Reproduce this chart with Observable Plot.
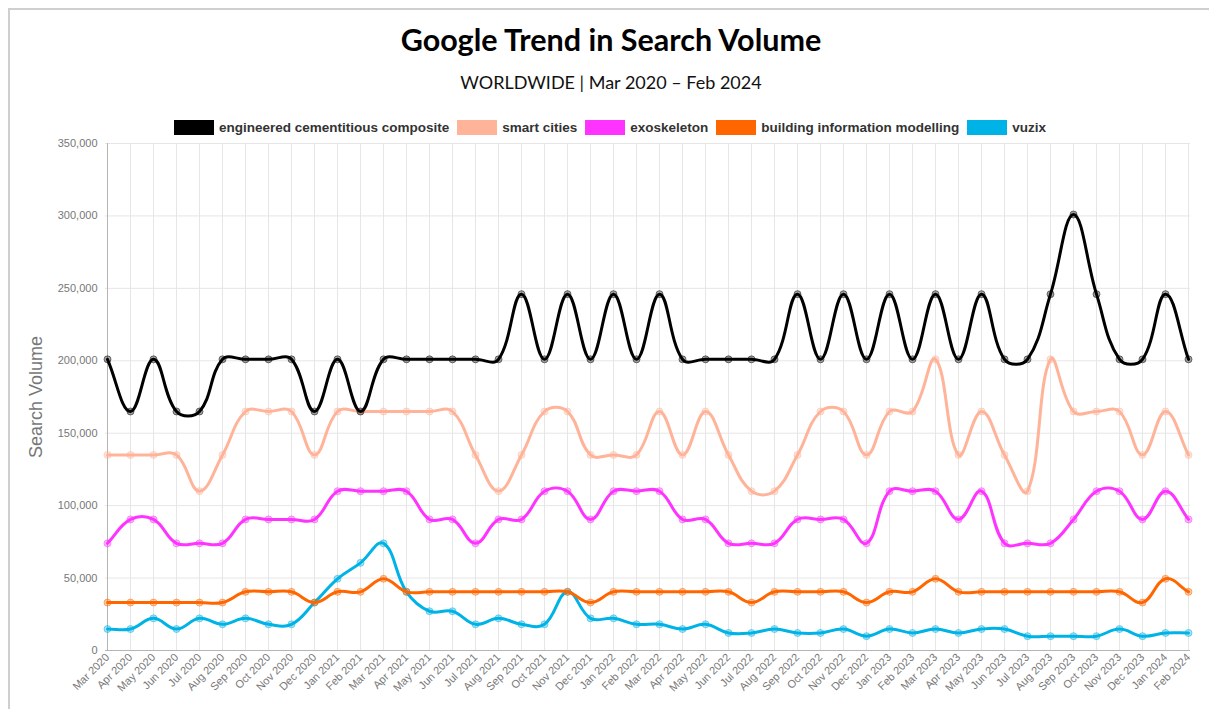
<!DOCTYPE html>
<html>
<head>
<meta charset="utf-8">
<script src="https://cdn.jsdelivr.net/npm/d3@7"></script>
<script src="https://cdn.jsdelivr.net/npm/@observablehq/plot@0.6"></script>
<style>
  html, body { margin: 0; padding: 0; overflow: hidden; background: #fff; }
  #frame { position: absolute; left: 8px; top: 8px; width: 1300px; height: 800px;
           border-left: 2px solid #cfcfcf; border-top: 2px solid #cfcfcf; pointer-events: none; z-index: 5; }
  #title { position: absolute; left: 0; width: 1222px; top: 21px; text-align: center;
           font: bold 30.5px Lato, "Open Sans", sans-serif; color: #000; }
  #subtitle { position: absolute; left: 0; width: 1222px; top: 71px; text-align: center;
           font: 18px Lato, "Open Sans", sans-serif; color: #111; }
  #legend { position: absolute; left: 0; width: 1220px; top: 120px; display: flex; justify-content: center;
            font: bold 13.5px "Liberation Sans", Arial, sans-serif; color: #333; }
  .item { display: flex; align-items: center; margin: 0 4px; }
  .sw { width: 40px; height: 15px; margin-right: 5px; box-sizing: border-box; }
  #ylabel { position: absolute; left: 36px; top: 397px; transform: translate(-50%, -50%) rotate(-90deg);
            font: 18px "Liberation Sans", Arial, sans-serif; color: #777; white-space: nowrap; }
  #chart { position: absolute; left: 0; top: 133px; }
</style>
</head>
<body>
<div id="frame"></div>
<div id="title">Google Trend in Search Volume</div>
<div id="subtitle">WORLDWIDE | Mar 2020 – Feb 2024</div>
<div id="legend"></div>
<div id="ylabel">Search Volume</div>
<div id="chart"></div>
<script>
const months = [
  "Mar 2020","Apr 2020","May 2020","Jun 2020","Jul 2020","Aug 2020","Sep 2020","Oct 2020","Nov 2020","Dec 2020",
  "Jan 2021","Feb 2021","Mar 2021","Apr 2021","May 2021","Jun 2021","Jul 2021","Aug 2021","Sep 2021","Oct 2021","Nov 2021","Dec 2021",
  "Jan 2022","Feb 2022","Mar 2022","Apr 2022","May 2022","Jun 2022","Jul 2022","Aug 2022","Sep 2022","Oct 2022","Nov 2022","Dec 2022",
  "Jan 2023","Feb 2023","Mar 2023","Apr 2023","May 2023","Jun 2023","Jul 2023","Aug 2023","Sep 2023","Oct 2023","Nov 2023","Dec 2023",
  "Jan 2024","Feb 2024"
];
const seriesNames = ["engineered cementitious composite","smart cities","exoskeleton","building information modelling","vuzix"];
const seriesColors = ["#000000","#FFB399","#FF33FF","#FF6600","#00B3E6"];

const ecc = [201000,165000,201000,165000,165000,201000,201000,201000,201000,165000,
  201000,165000,201000,201000,201000,201000,201000,201000,246000,201000,246000,201000,
  246000,201000,246000,201000,201000,201000,201000,201000,246000,201000,246000,201000,
  246000,201000,246000,201000,246000,201000,201000,246000,301000,246000,201000,201000,
  246000,201000];
const smartCities = [135000,135000,135000,135000,110000,135000,165000,165000,165000,135000,
  165000,165000,165000,165000,165000,165000,135000,110000,135000,165000,165000,135000,
  135000,135000,165000,135000,165000,135000,110000,110000,135000,165000,165000,135000,
  165000,165000,201000,135000,165000,135000,110000,201000,165000,165000,165000,135000,
  165000,135000];
const exoskeleton = [74000,90500,90500,74000,74000,74000,90500,90500,90500,90500,
  110000,110000,110000,110000,90500,90500,74000,90500,90500,110000,110000,90500,
  110000,110000,110000,90500,90500,74000,74000,74000,90500,90500,90500,74000,
  110000,110000,110000,90500,110000,74000,74000,74000,90500,110000,110000,90500,
  110000,90500];
const bim = [33100,33100,33100,33100,33100,33100,40500,40500,40500,33100,
  40500,40500,49500,40500,40500,40500,40500,40500,40500,40500,40500,33100,
  40500,40500,40500,40500,40500,40500,33100,40500,40500,40500,40500,33100,
  40500,40500,49500,40500,40500,40500,40500,40500,40500,40500,40500,33100,
  49500,40500];
const vuzix = [14800,14800,22200,14800,22200,18100,22200,18100,18100,33100,
  49500,60500,74000,40500,27100,27100,18100,22200,18100,18100,40500,22200,
  22200,18100,18100,14800,18100,12100,12100,14800,12100,12100,14800,9900,
  14800,12100,14800,12100,14800,14800,9900,9900,9900,9900,14800,9900,
  12100,12100];
const yTicks = [0,50000,100000,150000,200000,250000,300000,350000];

const seriesValues = [ecc, smartCities, exoskeleton, bim, vuzix];
const data = [];
seriesValues.forEach((vals, s) => vals.forEach((v, i) => data.push({series: seriesNames[s], month: months[i], value: v})));

// Legend
const leg = document.getElementById("legend");
seriesNames.forEach((n, i) => {
  const it = document.createElement("div"); it.className = "item";
  const sw = document.createElement("div"); sw.className = "sw"; sw.style.background = seriesColors[i];
  const tx = document.createElement("span"); tx.textContent = n;
  it.appendChild(sw); it.appendChild(tx); leg.appendChild(it);
});

// Chart.js-like spline curve (tension 0.4)
function chartjsCurve(context) {
  let pts;
  return {
    areaStart() {}, areaEnd() {},
    lineStart() { pts = []; },
    lineEnd() {
      const n = pts.length; if (!n) return;
      const t = 0.4;
      const cp = pts.map((p, i) => {
        const prev = pts[Math.max(i - 1, 0)], next = pts[Math.min(i + 1, n - 1)];
        const d01 = Math.hypot(p[0] - prev[0], p[1] - prev[1]);
        const d12 = Math.hypot(next[0] - p[0], next[1] - p[1]);
        let s01 = d01 / (d01 + d12), s12 = d12 / (d01 + d12);
        if (!isFinite(s01)) s01 = 0; if (!isFinite(s12)) s12 = 0;
        const fa = t * s01, fb = t * s12;
        return {
          a: [p[0] - fa * (next[0] - prev[0]), p[1] - fa * (next[1] - prev[1])],
          b: [p[0] + fb * (next[0] - prev[0]), p[1] + fb * (next[1] - prev[1])]
        };
      });
      context.moveTo(pts[0][0], pts[0][1]);
      for (let i = 1; i < n; i++) {
        context.bezierCurveTo(cp[i-1].b[0], cp[i-1].b[1], cp[i].a[0], cp[i].a[1], pts[i][0], pts[i][1]);
      }
    },
    point(x, y) { pts.push([+x, +y]); }
  };
}

const drawOrder = [...seriesNames].reverse();
const marks = [
  Plot.gridY(yTicks, {stroke: "#e6e6e6", strokeOpacity: 1}),
  Plot.gridX(months, {stroke: "#e6e6e6", strokeOpacity: 1}),
  Plot.ruleX([months[0]], {stroke: "#b5b5b5"}),
  Plot.ruleY([0], {stroke: "#b5b5b5"}),
  Plot.axisY(yTicks, {tickSize: 0, tickPadding: 8, tickFormat: d3.format(","), fill: "#777", fontSize: 11, label: null}),
  Plot.axisX(months, {tickSize: 0, tickPadding: 5, tickRotate: -45, fill: "#777", fontSize: 11, label: null})
];
for (const s of drawOrder) {
  const d = data.filter(r => r.series === s);
  const c = seriesColors[seriesNames.indexOf(s)];
  marks.push(Plot.line(d, {x: "month", y: "value", stroke: c, strokeWidth: 3, curve: chartjsCurve}));
  marks.push(Plot.dot(d, {x: "month", y: "value", r: 3.5, fill: c, fillOpacity: 0.35, stroke: c, strokeOpacity: 0.5, strokeWidth: 1}));
}

const chart = Plot.plot({
  width: 1209,
  height: 577,
  marginLeft: 105,
  marginRight: 19,
  marginTop: 10,
  marginBottom: 60,
  style: {background: "none", fontFamily: "'Liberation Sans', Arial, sans-serif"},
  x: {type: "point", domain: months, padding: 0},
  y: {domain: [0, 350000]},
  marks
});
document.getElementById("chart").appendChild(chart);
</script>
</body>
</html>
